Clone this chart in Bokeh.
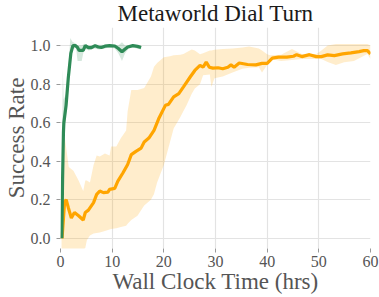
from bokeh.plotting import figure
from bokeh.models import FixedTicker, Range1d, Title, CustomJSTickFormatter
from bokeh.embed import file_html
from bokeh.resources import INLINE

# ---- data ----
title_text = "Metaworld Dial Turn"
x_label = "Wall Clock Time (hrs)"
y_label = "Success Rate"

x_ticks = [0, 10, 20, 30, 40, 50, 60]
x_tick_labels = ["0", "10", "20", "30", "40", "50", "60"]
y_ticks = [0.0, 0.2, 0.4, 0.6, 0.8, 1.0]
y_tick_labels = ["0.0", "0.2", "0.4", "0.6", "0.8", "1.0"]

green_x = [0.25, 0.4, 0.57, 0.65, 1.08, 1.5, 2.0, 2.4, 2.9, 3.3, 3.6, 4.4, 4.8, 5.4,
           6.0, 6.7, 7.3, 7.9, 8.6, 9.5, 10.5, 11.2, 11.9, 12.4, 13.0, 14.0, 14.9, 15.6]
green_mean = [0.0, 0.30, 0.55, 0.60, 0.69, 0.83, 0.96, 1.0, 1.0, 0.99, 0.975, 0.975, 1.0, 0.99,
              0.99, 1.0, 0.993, 0.99, 0.997, 1.0, 0.998, 0.985, 0.968, 0.98, 0.993, 1.0, 0.996, 0.99]

green_band_x = [0.25, 0.35, 0.45, 0.6, 1.08, 1.5, 1.9, 2.3, 3.0, 3.3, 4.1, 4.6, 5.5, 6.5,
                7.5, 8.5, 9.5, 10.5, 11.2, 11.9, 12.5, 13.2, 14.0, 15.6]
green_lo = [0.0, 0.10, 0.35, 0.52, 0.64, 0.78, 0.92, 0.98, 0.99, 0.92, 0.92, 0.985, 0.975, 0.985,
            0.98, 0.985, 0.99, 0.985, 0.96, 0.92, 0.96, 0.985, 0.99, 0.98]
green_hi = [0.02, 0.60, 0.88, 0.72, 0.75, 0.88, 1.04, 1.02, 1.01, 1.0, 1.0, 1.01, 1.0, 1.005,
            1.005, 1.005, 1.005, 1.005, 1.0, 1.017, 1.0, 1.0, 1.005, 1.0]

orange_x = [0.3, 0.8, 1.1, 1.5, 2.1, 2.7, 3.5, 4.4, 4.8, 5.4,
            6.4, 7.0, 7.6, 8.3, 9.2, 9.5, 10.5, 11.1, 12.1, 13.0,
            13.7, 14.6, 15.6, 16.2, 17.1, 18.1, 19.0, 20.3, 20.9, 21.9,
            22.9, 23.8, 25.1, 26.0, 27.0, 27.6, 28.2, 28.8, 29.5, 30.5,
            31.4, 32.4, 33.0, 33.6, 34.6, 36.2, 37.8, 39.0, 40.0, 41.0,
            42.2, 43.8, 45.1, 45.7, 46.7, 48.2, 49.5, 50.5, 51.7, 53.0,
            54.6, 56.2, 57.8, 58.7, 59.4, 60.0]
orange_mean = [0.0, 0.19, 0.20, 0.16, 0.105, 0.134, 0.117, 0.095, 0.134, 0.146,
               0.185, 0.228, 0.245, 0.237, 0.24, 0.254, 0.259, 0.297, 0.34, 0.383,
               0.434, 0.451, 0.468, 0.50, 0.52, 0.56, 0.62, 0.69, 0.695, 0.734,
               0.751, 0.786, 0.837, 0.871, 0.897, 0.888, 0.914, 0.888, 0.883, 0.885,
               0.88, 0.888, 0.90, 0.888, 0.91, 0.902, 0.90, 0.908, 0.908, 0.935,
               0.94, 0.94, 0.945, 0.953, 0.943, 0.953, 0.943, 0.943, 0.952, 0.948,
               0.957, 0.962, 0.969, 0.974, 0.974, 0.957]

orange_band_x = [0.2, 0.5, 0.8, 1.6, 2.5, 3.5, 4.4, 4.8, 5.1, 5.7,
                 6.4, 7.0, 7.6, 8.6, 9.5, 9.8, 10.8, 11.7, 12.7, 13.0,
                 13.7, 14.9, 16.2, 17.5, 18.1, 18.7, 20.0, 21.2, 21.9, 23.2,
                 23.8, 24.4, 25.4, 26.0, 27.0, 27.6, 28.9, 29.2, 29.8, 31.4,
                 33.3, 35.2, 36.5, 38.4, 39.0, 40.0, 40.6, 42.7, 44.8, 46.7,
                 49.5, 50.5, 51.7, 53.3, 54.9, 56.8, 59.4, 60.0]
orange_lo = [-0.06, -0.06, -0.06, -0.06, -0.06, -0.06, -0.06, -0.05, -0.01, 0.015,
             0.025, 0.028, 0.03, 0.038, 0.045, 0.048, 0.052, 0.058, 0.065, 0.075,
             0.095, 0.117, 0.17, 0.20, 0.23, 0.29, 0.38, 0.50, 0.57, 0.63,
             0.66, 0.69, 0.75, 0.777, 0.80, 0.846, 0.85, 0.785, 0.83, 0.84,
             0.86, 0.88, 0.885, 0.888, 0.86, 0.90, 0.93, 0.92, 0.925, 0.93,
             0.93, 0.93, 0.915, 0.90, 0.914, 0.92, 0.957, 0.93]
orange_hi = [0.05, 0.50, 0.53, 0.37, 0.35, 0.30, 0.245, 0.30, 0.30, 0.29,
             0.38, 0.43, 0.425, 0.44, 0.43, 0.477, 0.477, 0.52, 0.56, 0.66,
             0.77, 0.77, 0.78, 0.84, 0.89, 0.91, 0.94, 0.945, 0.95, 0.952,
             0.957, 0.965, 0.98, 0.975, 0.955, 0.96, 0.974, 0.974, 0.978, 0.983,
             0.985, 0.99, 0.996, 0.985, 0.975, 0.955, 0.95, 0.953, 0.983, 0.957,
             0.957, 0.974, 1.0, 1.008, 1.008, 1.008, 1.008, 1.0]

# ---- style ----
FONT = "Liberation Serif"
ORANGE = "#FFA500"
GREEN = "#2E8B57"
X_MIN, X_MAX = 0, 60
Y_MIN, Y_MAX = -0.053, 1.094

p = figure(width=379, height=297, output_backend="svg", toolbar_location=None,
           x_range=Range1d(X_MIN, X_MAX), y_range=Range1d(Y_MIN, Y_MAX),
           min_border_left=55, min_border_right=9, min_border_top=25, min_border_bottom=49)
p.title = Title(text=title_text, text_font=FONT, text_font_size="23px",
                text_font_style="normal", text_color="#1a1a1a", align="center",
                vertical_align="top", standoff=0, text_line_height=0.8)
p.outline_line_color = None
p.background_fill_color = "white"
p.border_fill_color = "white"

p.varea(x=orange_band_x, y1=orange_lo, y2=orange_hi, fill_color=ORANGE, fill_alpha=0.2)
p.varea(x=green_band_x, y1=green_lo, y2=green_hi, fill_color=GREEN, fill_alpha=0.2)
p.line(orange_x, orange_mean, line_color=ORANGE, line_width=3.2)
p.line(green_x, green_mean, line_color=GREEN, line_width=3.2)

fmt_code = """
let best = 0; let bd = Infinity;
for (let i = 0; i < tvals.length; i++) {
  const d = Math.abs(tvals[i] - tick);
  if (d < bd) { bd = d; best = i; }
}
return tlabels[best];
"""
p.xaxis.ticker = FixedTicker(ticks=x_ticks)
p.yaxis.ticker = FixedTicker(ticks=y_ticks)
p.xaxis.formatter = CustomJSTickFormatter(args=dict(tvals=x_ticks, tlabels=x_tick_labels), code=fmt_code)
p.yaxis.formatter = CustomJSTickFormatter(args=dict(tvals=y_ticks, tlabels=y_tick_labels), code=fmt_code)
p.xaxis.axis_label = x_label
p.yaxis.axis_label = y_label

for ax in (p.xaxis[0], p.yaxis[0]):
    ax.axis_line_color = None
    ax.major_tick_line_color = "#999999"
    ax.major_tick_out = 4
    ax.major_tick_in = 0
    ax.minor_tick_line_color = None
    ax.major_label_text_font = FONT
    ax.major_label_text_font_style = "normal"
    ax.major_label_text_font_size = "16px"
    ax.major_label_text_color = "#555555"
    ax.axis_label_text_font = FONT
    ax.axis_label_text_font_size = "23px"
    ax.axis_label_text_font_style = "normal"
    ax.axis_label_text_color = "#555555"
p.xaxis.major_label_standoff = 3
p.xaxis.axis_label_standoff = -1
p.yaxis.major_label_standoff = 6
p.yaxis.axis_label_standoff = -1

p.xgrid.grid_line_color = "#e3e3e3"
p.ygrid.grid_line_color = "#e3e3e3"
p.xgrid.grid_line_width = 1.2
p.ygrid.grid_line_width = 1.2

open("out.html", "w").write(file_html(p, INLINE))
